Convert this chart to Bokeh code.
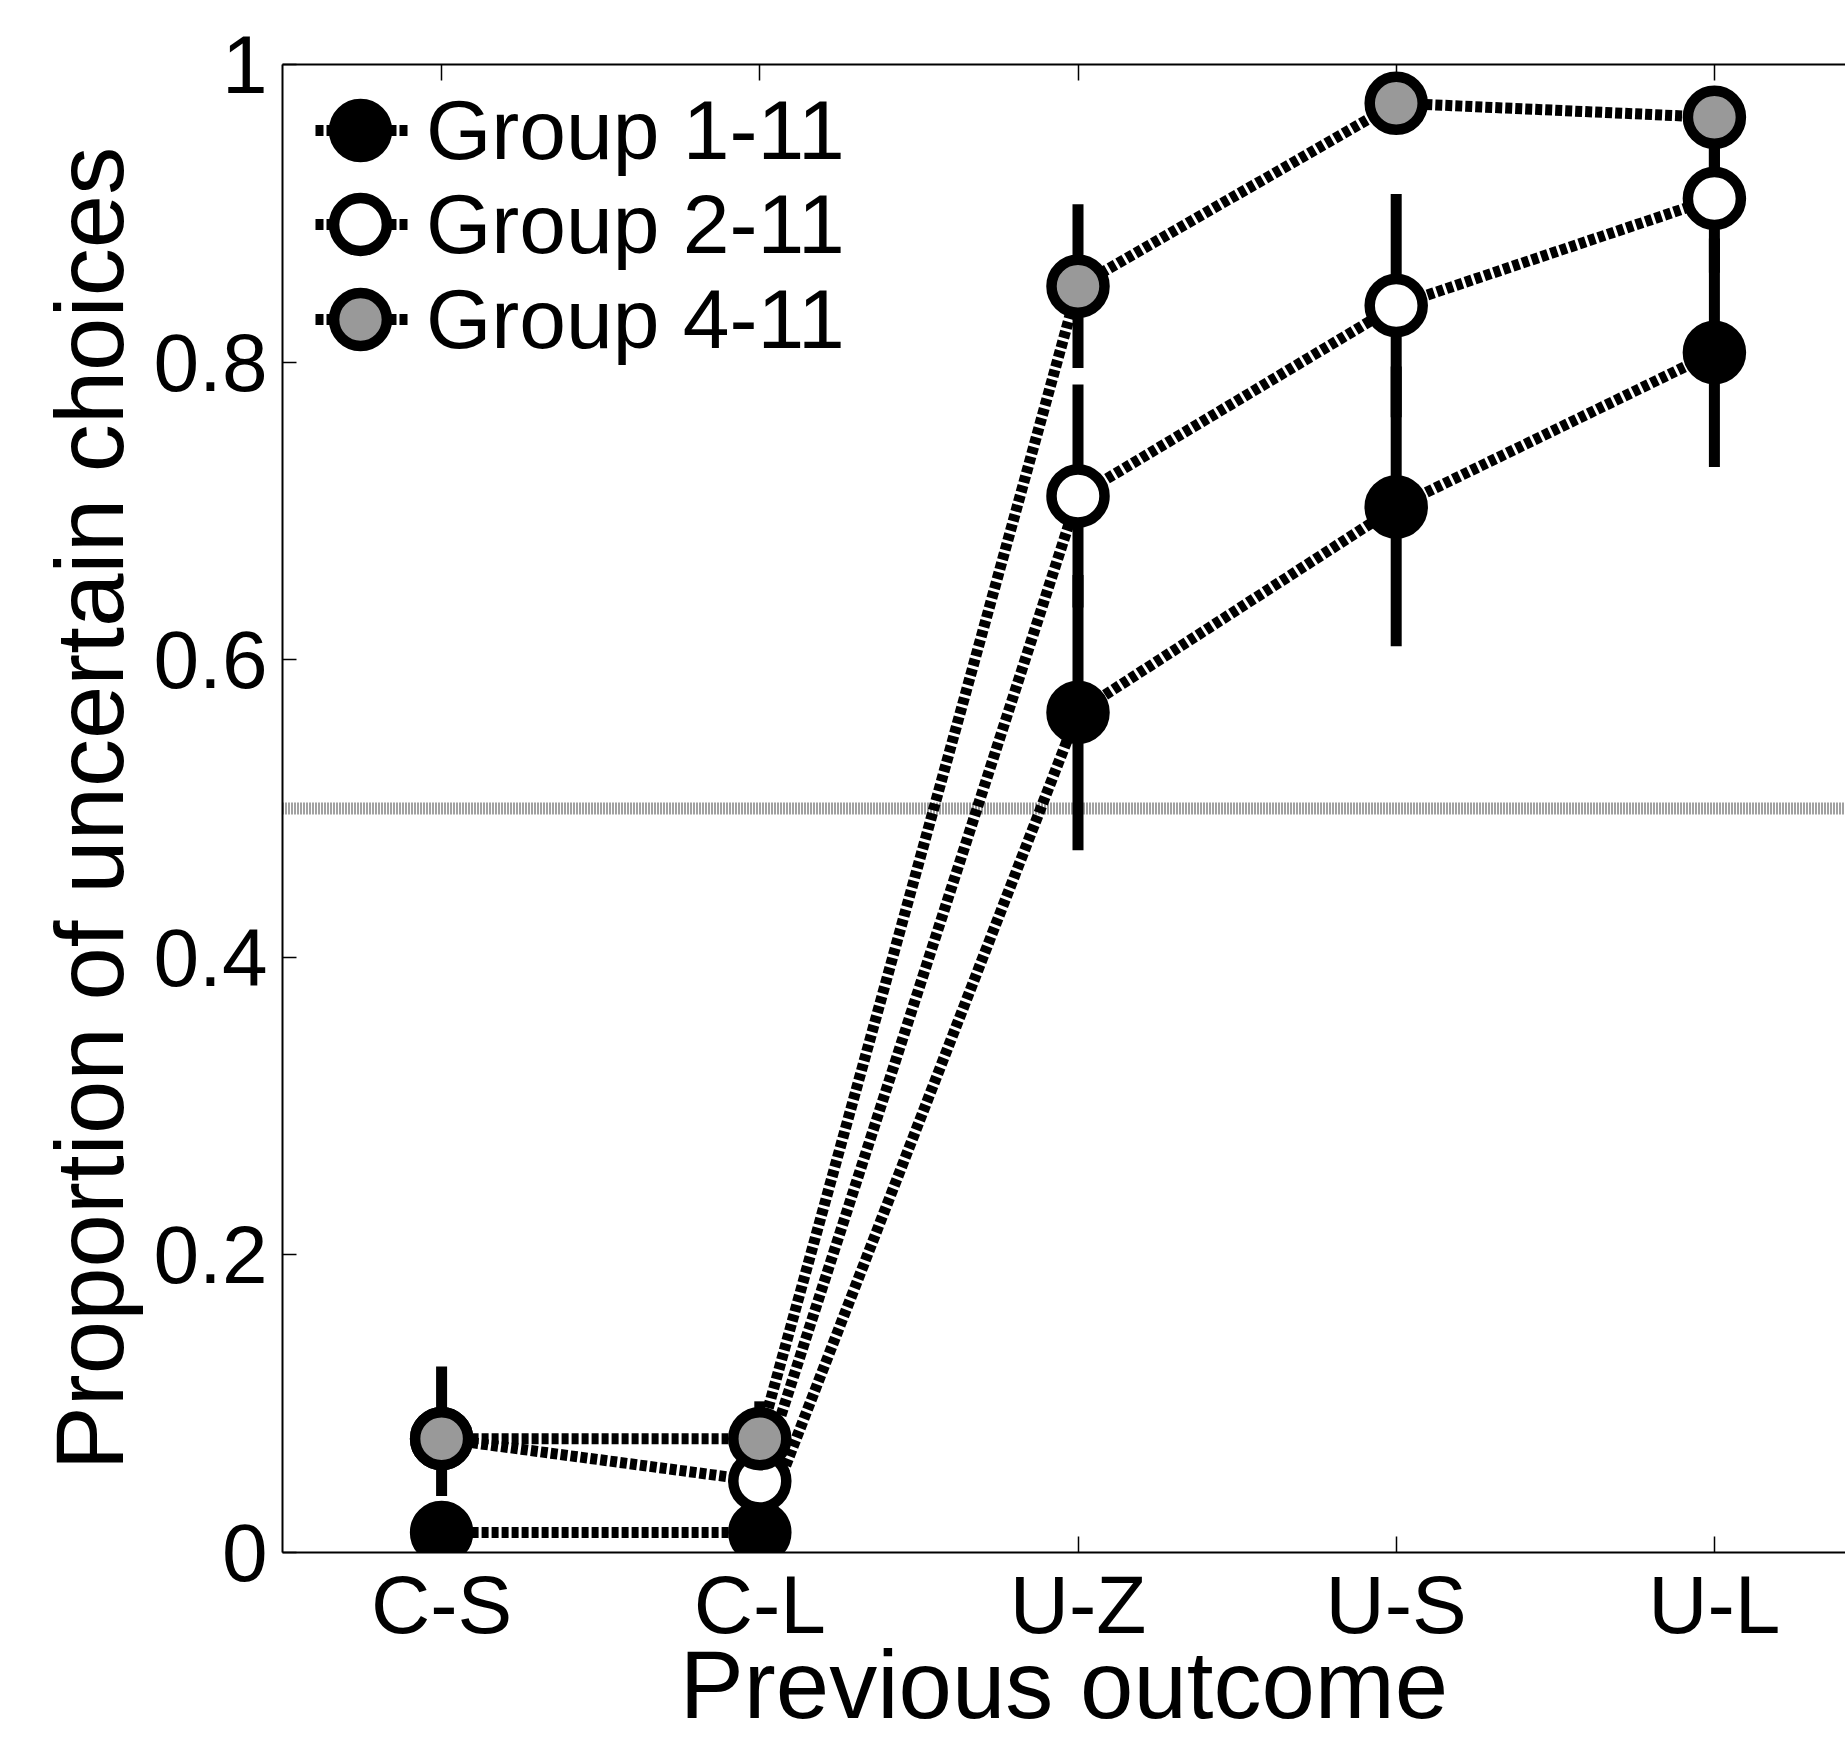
from bokeh.plotting import figure
from bokeh.models import (Range1d, LinearAxis, FixedTicker, NumeralTickFormatter,
                          Span, Legend, LegendItem, CustomLabelingPolicy)
from bokeh.embed import file_html
from bokeh.resources import INLINE

# ---------------- data ----------------
categories = ["C-S", "C-L", "U-Z", "U-S", "U-L"]
x_pos = [1, 2, 3, 4, 5]

group_labels = ["Group 1-11", "Group 2-11", "Group 4-11"]

g1_mean = [0.0135, 0.0135, 0.5646, 0.7026, 0.8065]
g1_low = [0.0135, 0.0135, 0.472, 0.609, 0.7295]
g1_high = [0.0135, 0.0135, 0.657, 0.797, 0.883]

g2_mean = [0.0765, 0.048, 0.710, 0.838, 0.910]
g2_low = [0.0765, 0.048, 0.635, 0.763, 0.860]
g2_high = [0.0765, 0.048, 0.785, 0.913, 0.960]

g4_mean = [0.0765, 0.0765, 0.851, 0.974, 0.9645]
g4_low = [0.038, 0.052, 0.796, 0.960, 0.930]
g4_high = [0.125, 0.1016, 0.906, 0.985, 0.980]

chance_level = 0.5
y_ticks = [0, 0.2, 0.4, 0.6, 0.8, 1.0]

means = [g1_mean, g2_mean, g4_mean]
lows = [g1_low, g2_low, g4_low]
highs = [g1_high, g2_high, g4_high]
fills = ["black", "white", "#999999"]

FONT = "Liberation Sans"

# ---------------- figure ----------------
p = figure(width=1845, height=1742, output_backend="svg", toolbar_location=None,
           x_range=Range1d(0.5, 5.412), y_range=Range1d(0, 1),
           min_border_left=282, min_border_right=0, min_border_top=64,
           min_border_bottom=190)
p.outline_line_color = None
p.xgrid.visible = False
p.ygrid.visible = False
p.background_fill_color = "white"
p.border_fill_color = "white"

bottom_axis = p.below[0]
left_axis = p.left[0]
top_axis = LinearAxis()
p.add_layout(top_axis, "above")

for ax in [bottom_axis, left_axis, top_axis]:
    ax.axis_line_color = "black"
    ax.axis_line_width = 2
    ax.major_tick_line_color = "black"
    ax.major_tick_line_width = 1.5
    ax.major_tick_out = 0
    ax.minor_tick_in = 0
    ax.minor_tick_out = 0
    ax.major_label_text_font = FONT
    ax.major_label_text_font_size = "82px"
    ax.major_label_text_color = "black"
    ax.axis_label_text_font = FONT
    ax.axis_label_text_font_size = "96px"
    ax.axis_label_text_font_style = "normal"
    ax.axis_label_text_color = "black"

for ax in [bottom_axis, top_axis]:
    ax.ticker = FixedTicker(ticks=x_pos, minor_ticks=[])
    ax.major_label_overrides = {x: c for x, c in zip(x_pos, categories)}
    ax.major_tick_in = 16

# top box edge: ticks only, no labels drawn
top_axis.major_label_text_font_size = "1px"
top_axis.major_label_standoff = 0
top_axis.major_label_policy = CustomLabelingPolicy(
    code="const ones = Array.from(indices); for (const i of ones) { indices.unset(i) } return indices")

bottom_axis.axis_label = "Previous outcome"
bottom_axis.major_label_standoff = 6
bottom_axis.axis_label_standoff = -22

left_axis.ticker = FixedTicker(ticks=y_ticks, minor_ticks=[])
left_axis.formatter = NumeralTickFormatter(format="0.[0]")
left_axis.major_tick_in = 14
left_axis.major_label_standoff = 15
left_axis.axis_label = "Proportion of uncertain choices"
left_axis.axis_label_standoff = 8

# chance line
p.add_layout(Span(location=chance_level, dimension="width", line_color="#444444",
                  line_width=12, line_dash="1 2", level="underlay"))

LW = 11
# error bars
for lo, hi in zip(lows, highs):
    p.segment(x0=x_pos, y0=lo, x1=x_pos, y1=hi, line_color="black", line_width=LW)
# connecting dotted lines
for m in means:
    p.line(x=x_pos, y=m, line_color="black", line_width=LW, line_dash="7 3")
# markers
marker_renderers = []
for m, fc in zip(means, fills):
    r = p.scatter(x=x_pos, y=m, size=53, marker="circle", fill_color=fc,
                  line_color="black", line_width=10.5)
    marker_renderers.append(r)

# legend: one single-entry legend per row (stub line + marker)
nan = float("nan")
legend_offsets_y = [1356, 1262, 1167]
for lab, r, vy in zip(group_labels, marker_renderers, legend_offsets_y):
    stub = p.line(x=[nan], y=[nan], line_color="black", line_width=LW,
                  line_dash="0 21 8 3 70 3 8 19")
    leg = Legend(items=[LegendItem(label=lab, renderers=[stub, r])],
                 location=(12, vy), glyph_width=132, glyph_height=132,
                 label_standoff=0, padding=0, margin=0,
                 border_line_color=None, background_fill_alpha=0,
                 label_text_font=FONT, label_text_font_size="84px",
                 label_text_color="black")
    p.add_layout(leg)

open("out.html", "w").write(file_html(p, INLINE))
